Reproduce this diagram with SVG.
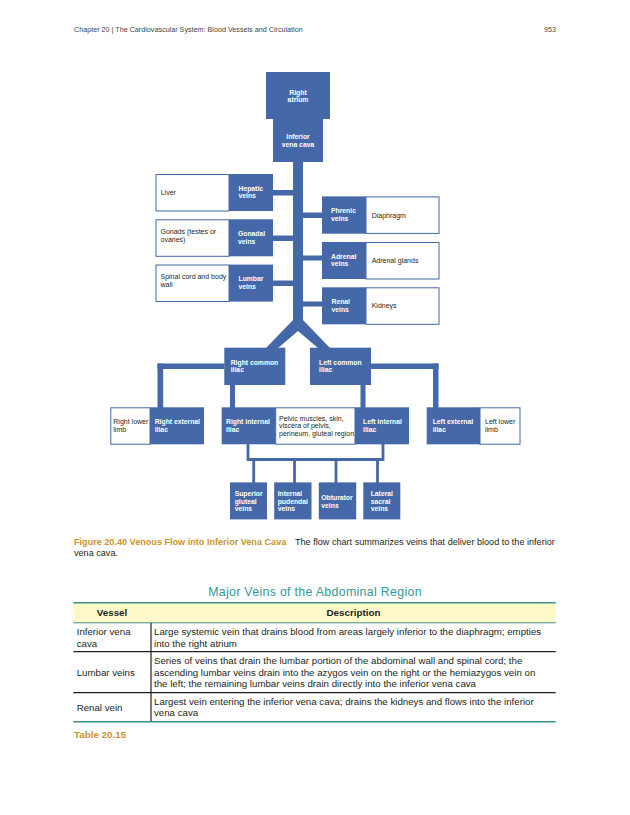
<svg xmlns="http://www.w3.org/2000/svg" width="630" height="815" viewBox="0 0 630 815">
<style>
.bl{fill:#4468a8}
.wb{fill:#ffffff;stroke:#4468a8;stroke-width:1}
.bt{font-family:"Liberation Sans",Arial,sans-serif;font-size:6.8px;font-weight:bold;fill:#ffffff}
.wt{font-family:"Liberation Sans",Arial,sans-serif;font-size:7px;fill:#231f20}
.ln{stroke:#4468a8;stroke-width:2.8;fill:none}
.hd{font-family:"Liberation Sans",Arial,sans-serif;font-size:7.2px;fill:#444444}
.cap{font-family:"Liberation Sans",Arial,sans-serif;font-size:9.1px;fill:#231f20}
.gold{font-weight:bold;fill:#c8952c}
.tt{font-family:"Liberation Sans",Arial,sans-serif;font-size:9.7px;fill:#231f20}
.th{font-family:"Liberation Sans",Arial,sans-serif;font-size:9.8px;font-weight:bold;fill:#231f20}
</style>
<rect width="630" height="815" fill="#ffffff"/>
<text class="hd" x="74" y="32">Chapter 20 | The Cardiovascular System: Blood Vessels and Circulation</text>
<text class="hd" x="556" y="32" text-anchor="end">953</text>

<g id="connectors">
<rect class="bl" x="293" y="160" width="10" height="163"/>
<polygon class="bl" points="293,320 303,320 330,348 318,348 298,331 278,348 266,348"/>
<rect class="bl" x="273" y="190" width="21" height="5.5"/>
<rect class="bl" x="273" y="235.5" width="21" height="5.5"/>
<rect class="bl" x="273" y="280.5" width="21" height="5.5"/>
<rect class="bl" x="302" y="212.5" width="21" height="5.5"/>
<rect class="bl" x="302" y="255.5" width="21" height="5"/>
<rect class="bl" x="302" y="301.5" width="21" height="5"/>
<rect class="bl" x="157.5" y="363.5" width="67" height="5.5"/>
<rect class="bl" x="157.5" y="363.5" width="5.7" height="44.5"/>
<rect class="bl" x="230" y="384" width="5" height="24"/>
<rect class="bl" x="360.5" y="384" width="5" height="24"/>
<rect class="bl" x="370" y="363.5" width="68.5" height="5.5"/>
<rect class="bl" x="433" y="363.5" width="5.5" height="44.5"/>
<path class="ln" d="M248,444 V459.5 H383 V444"/>
<path class="ln" d="M253.7,459.5 V483 M294.5,459.5 V483 M336,459.5 V483 M377.5,459.5 V483"/>
</g>

<g id="right-atrium">
<rect class="bl" x="266" y="72" width="64" height="47"/>
<text class="bt" x="298" y="94.5" text-anchor="middle">Right</text>
<text class="bt" x="298" y="102.2" text-anchor="middle">atrium</text>
</g>
<g id="inferior-vena-cava">
<rect class="bl" x="273" y="119" width="50" height="43"/>
<text class="bt" x="298" y="139" text-anchor="middle">Inferior</text>
<text class="bt" x="298" y="146.7" text-anchor="middle">vena cava</text>
</g>

<g id="hepatic">
<rect class="wb" x="156" y="174.5" width="73" height="36.5"/>
<rect class="bl" x="229" y="174" width="44" height="37"/>
<text class="wt" x="160.7" y="194.5">Liver</text>
<text class="bt" x="238.5" y="190.5">Hepatic</text>
<text class="bt" x="238.5" y="198.2">veins</text>
</g>
<g id="gonadal">
<rect class="wb" x="156" y="219.8" width="73" height="36.5"/>
<rect class="bl" x="229" y="219.3" width="44" height="37"/>
<text class="wt" x="160.5" y="234">Gonads (testes or</text>
<text class="wt" x="160.5" y="241.7">ovaries)</text>
<text class="bt" x="238" y="235.8">Gonadal</text>
<text class="bt" x="238" y="243.5">veins</text>
</g>
<g id="lumbar">
<rect class="wb" x="156" y="265" width="73" height="36.5"/>
<rect class="bl" x="229" y="264.6" width="44" height="37"/>
<text class="wt" x="160.5" y="279">Spinal cord and body</text>
<text class="wt" x="160.5" y="286.7">wall</text>
<text class="bt" x="238.5" y="281">Lumbar</text>
<text class="bt" x="238.5" y="288.7">veins</text>
</g>

<g id="phrenic">
<rect class="bl" x="322" y="196.4" width="44" height="37.3"/>
<rect class="wb" x="366" y="196.9" width="73" height="36.5"/>
<text class="bt" x="331" y="213.2">Phrenic</text>
<text class="bt" x="331" y="220.9">veins</text>
<text class="wt" x="371.7" y="217.5">Diaphragm</text>
</g>
<g id="adrenal">
<rect class="bl" x="322" y="242" width="44" height="37"/>
<rect class="wb" x="366" y="242.5" width="73" height="36.5"/>
<text class="bt" x="331" y="258.7">Adrenal</text>
<text class="bt" x="331" y="266.4">veins</text>
<text class="wt" x="371.7" y="262.5">Adrenal glands</text>
</g>
<g id="renal">
<rect class="bl" x="322" y="287.3" width="44" height="37"/>
<rect class="wb" x="366" y="287.8" width="73" height="36.5"/>
<text class="bt" x="331.5" y="304">Renal</text>
<text class="bt" x="331.5" y="311.7">veins</text>
<text class="wt" x="371.7" y="308">Kidneys</text>
</g>

<g id="right-common-iliac">
<rect class="bl" x="224.3" y="347.7" width="61" height="37.3"/>
<text class="bt" x="230.7" y="364.7">Right common</text>
<text class="bt" x="230.7" y="372.4">iliac</text>
</g>
<g id="left-common-iliac">
<rect class="bl" x="310" y="347.7" width="61" height="37.3"/>
<text class="bt" x="319" y="364.7">Left common</text>
<text class="bt" x="319" y="372.4">iliac</text>
</g>

<g id="right-external-iliac">
<rect class="wb" x="110.8" y="407.8" width="39.2" height="36.4"/>
<rect class="bl" x="150" y="407.3" width="54" height="37"/>
<text class="wt" x="113.3" y="424.3">Right lower</text>
<text class="wt" x="113.3" y="432">limb</text>
<text class="bt" x="154.7" y="424.3">Right external</text>
<text class="bt" x="154.7" y="432">iliac</text>
</g>
<g id="internal-iliac">
<rect class="bl" x="221.7" y="407.3" width="54" height="37"/>
<rect class="wb" x="275.7" y="407.8" width="79.3" height="36.4"/>
<rect class="bl" x="355" y="407.3" width="54" height="37"/>
<text class="bt" x="226" y="424.3">Right internal</text>
<text class="bt" x="226" y="432">iliac</text>
<text class="wt" x="279" y="420.5">Pelvic muscles, skin,</text>
<text class="wt" x="279" y="428.2">viscera of pelvis,</text>
<text class="wt" x="279" y="435.9">perineum, gluteal region</text>
<text class="bt" x="363" y="424.3">Left internal</text>
<text class="bt" x="363" y="432">iliac</text>
</g>
<g id="left-external-iliac">
<rect class="bl" x="426.7" y="407.3" width="53.3" height="37"/>
<rect class="wb" x="480" y="407.8" width="40" height="36.4"/>
<text class="bt" x="432.7" y="424.3">Left external</text>
<text class="bt" x="432.7" y="432">iliac</text>
<text class="wt" x="485" y="424.3">Left lower</text>
<text class="wt" x="485" y="432">limb</text>
</g>

<g id="superior-gluteal">
<rect class="bl" x="230" y="482.4" width="37" height="37"/>
<text class="bt" x="234.7" y="496">Superior</text>
<text class="bt" x="234.7" y="503.7">gluteal</text>
<text class="bt" x="234.7" y="511.4">veins</text>
</g>
<g id="internal-pudendal">
<rect class="bl" x="274.2" y="482.4" width="37.3" height="37"/>
<text class="bt" x="277.7" y="496">Internal</text>
<text class="bt" x="277.7" y="503.7">pudendal</text>
<text class="bt" x="277.7" y="511.4">veins</text>
</g>
<g id="obturator">
<rect class="bl" x="318.8" y="482.4" width="37.4" height="37"/>
<text class="bt" x="321.3" y="500">Obturator</text>
<text class="bt" x="321.3" y="507.7">veins</text>
</g>
<g id="lateral-sacral">
<rect class="bl" x="363.3" y="482.4" width="37" height="37"/>
<text class="bt" x="370.7" y="496">Lateral</text>
<text class="bt" x="370.7" y="503.7">sacral</text>
<text class="bt" x="370.7" y="511.4">veins</text>
</g>

<text class="cap" x="74" y="544.5"><tspan class="gold">Figure 20.40 Venous Flow into Inferior Vena Cava</tspan></text>
<text class="cap" x="295" y="544.5">The flow chart summarizes veins that deliver blood to the inferior</text>
<text class="cap" x="74" y="556">vena cava.</text>

<g id="table">
<text x="315" y="596" text-anchor="middle" font-family="Liberation Sans, Arial, sans-serif" font-size="12.4" fill="#35989a" letter-spacing="0.3">Major Veins of the Abdominal Region</text>
<rect x="73.3" y="603" width="482.4" height="19.7" fill="#fcf8c8"/>
<line x1="73.3" y1="602.8" x2="555.7" y2="602.8" stroke="#3c9488" stroke-width="1.5"/>
<line x1="73.3" y1="622.8" x2="555.7" y2="622.8" stroke="#3c9488" stroke-width="1"/>
<line x1="73.3" y1="651.7" x2="555.7" y2="651.7" stroke="#231f20" stroke-width="1.2"/>
<line x1="73.3" y1="692.7" x2="555.7" y2="692.7" stroke="#231f20" stroke-width="1.2"/>
<line x1="73.3" y1="721.7" x2="555.7" y2="721.7" stroke="#3c9488" stroke-width="1.5"/>
<line x1="151" y1="623" x2="151" y2="721" stroke="#231f20" stroke-width="1.2"/>
<text class="th" x="112" y="615.7" text-anchor="middle">Vessel</text>
<text class="th" x="353.5" y="615.7" text-anchor="middle">Description</text>
<text class="tt" x="76.7" y="635">Inferior vena</text>
<text class="tt" x="76.7" y="646.5">cava</text>
<text class="tt" x="154" y="635">Large systemic vein that drains blood from areas largely inferior to the diaphragm; empties</text>
<text class="tt" x="154" y="646.5">into the right atrium</text>
<text class="tt" x="76.7" y="675.5">Lumbar veins</text>
<text class="tt" x="154" y="664.3">Series of veins that drain the lumbar portion of the abdominal wall and spinal cord; the</text>
<text class="tt" x="154" y="675.7">ascending lumbar veins drain into the azygos vein on the right or the hemiazygos vein on</text>
<text class="tt" x="154" y="687.1">the left; the remaining lumbar veins drain directly into the inferior vena cava</text>
<text class="tt" x="76.7" y="710.5">Renal vein</text>
<text class="tt" x="154" y="705">Largest vein entering the inferior vena cava; drains the kidneys and flows into the inferior</text>
<text class="tt" x="154" y="716.3">vena cava</text>
<text class="th" x="74" y="737.5" style="fill:#c8952c">Table 20.15</text>
</g>
</svg>
